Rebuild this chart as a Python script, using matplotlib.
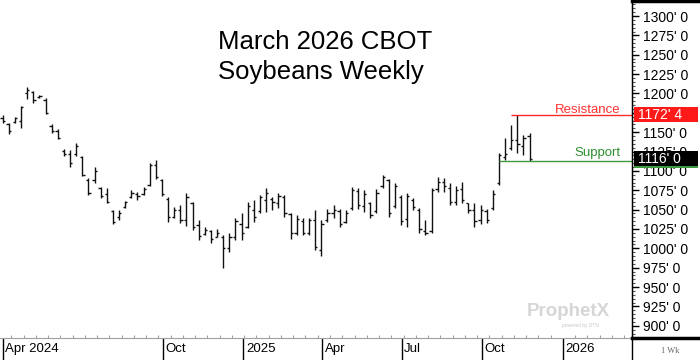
import matplotlib
matplotlib.use("Agg")
import matplotlib.pyplot as plt
import matplotlib.dates as mdates
from matplotlib.ticker import MultipleLocator
from matplotlib.transforms import blended_transform_factory, ScaledTranslation
from matplotlib.patches import Rectangle
from matplotlib.lines import Line2D
from datetime import date, timedelta

plt.rcParams['font.family'] = ['Liberation Sans', 'DejaVu Sans']

# weekly bars, march 2026 soybeans (cents/bu)
first_week = date(2024, 4, 1)
highs = [1172, 1162, 1170, 1184, 1208, 1203, 1198, 1194, 1160, 1154,
         1128, 1127, 1136, 1119, 1091, 1105, 1079, 1078, 1050, 1050,
         1061, 1075, 1073, 1079, 1110, 1114, 1090, 1066, 1053, 1056,
         1071, 1060, 1037, 1028, 1024, 1025, 1017, 1020, 1039, 1046,
         1060, 1062, 1069, 1078, 1066, 1071, 1069, 1046, 1043, 1039,
         1039, 1050, 1037, 1051, 1056, 1051, 1050, 1079, 1078, 1075,
         1060, 1077, 1095, 1090, 1084, 1069, 1071, 1065, 1052, 1037,
         1078, 1092, 1091, 1084, 1080, 1086, 1059, 1059, 1056, 1051,
         1075, 1123, 1143, 1159, 1172.5, 1146, 1149]
lows = [1162, 1148, 1162, 1155, 1193, 1188, 1194, 1173, 1149, 1141,
        1119, 1105, 1119, 1093, 1069, 1084, 1065, 1058, 1031, 1037,
        1052, 1065, 1062, 1069, 1080, 1090, 1068, 1034, 1039, 1033,
        1029, 1024, 1011, 1017, 1007, 1015, 975, 995, 1011, 1011,
        1026, 1034, 1046, 1047, 1050, 1052, 1040, 1012, 1017, 1017,
        1017, 998, 990, 1034, 1039, 1028, 1033, 1050, 1051, 1047,
        1039, 1046, 1078, 1040, 1052, 1030, 1028, 1050, 1020, 1017,
        1020, 1073, 1073, 1056, 1056, 1059, 1046, 1028, 1031, 1033,
        1050, 1082, 1114, 1127, 1123, 1121, 1113]
opens = [1168, 1160, 1163, 1165, 1200, 1202, 1195, 1192, 1158, 1152,
         1126, 1122, 1122, 1118, 1088, 1088, 1078, 1070, 1048, 1040,
         1054, 1066, 1070, 1070, 1082, 1108, 1088, 1064, 1040, 1050,
         1036, 1058, 1030, 1018, 1022, 1014, 1015, 1000, 1015, 1032,
         1028, 1050, 1048, 1062, 1064, 1058, 1066, 1044, 1020, 1035,
         1020, 1036, 998, 1036, 1045, 1048, 1034, 1052, 1074, 1055,
         1058, 1048, 1080, 1088, 1055, 1066, 1038, 1062, 1050, 1022,
         1022, 1076, 1086, 1078, 1060, 1076, 1058, 1050, 1036, 1048,
         1052, 1085, 1118, 1130, 1140, 1132, 1145]
closes = [1164, 1152, 1168, 1182, 1204, 1192, 1197, 1175, 1152, 1143,
          1122, 1110, 1132, 1095, 1072, 1100, 1068, 1060, 1034, 1046,
          1060, 1072, 1068, 1077, 1108, 1092, 1070, 1040, 1050, 1036,
          1066, 1028, 1016, 1024, 1012, 1020, 1000, 1015, 1035, 1020,
          1055, 1040, 1066, 1072, 1060, 1068, 1045, 1020, 1038, 1020,
          1036, 1002, 1032, 1046, 1050, 1032, 1046, 1075, 1056, 1070,
          1043, 1072, 1092, 1045, 1080, 1035, 1068, 1054, 1025, 1020,
          1075, 1086, 1080, 1060, 1075, 1062, 1050, 1035, 1050, 1036,
          1070, 1120, 1122, 1140, 1135, 1142, 1116]

resistance = 1172.5
support = 1113
last_price = 1116

ytick_values = list(range(900, 1301, 25))
xtick_dates = [date(2024, 4, 1), date(2024, 10, 1), date(2025, 1, 1), date(2025, 4, 1),
               date(2025, 7, 1), date(2025, 10, 1), date(2026, 1, 1)]
xtick_labels = ['Apr 2024', 'Oct', '2025', 'Apr', 'Jul', 'Oct', '2026']


def price_label(v):
    # cents and eighths, the way ProphetX writes it
    return "%d' %d" % (int(v), int(round((v % 1) * 8)))


fig = plt.figure(figsize=(7, 3.6), dpi=100)
ax = fig.add_axes([0, 22 / 360, 632 / 700, 338 / 360])

weeks = [first_week + timedelta(weeks=i) for i in range(len(highs))]
x = mdates.date2num(weeks)
bar_col = '#111111'
ax.vlines(x, lows, highs, color=bar_col, lw=1.0)
ax.hlines(opens, x - 2.6, x, color=bar_col, lw=1.0)
ax.hlines(closes, x, x + 2.6, color=bar_col, lw=1.0)

x0 = mdates.date2num(date(2024, 3, 29))
x1 = mdates.date2num(date(2026, 3, 21))
ax.set_xlim(x0, x1)
ax.set_ylim(884.2, 1320.7)

# resistance / support
ax.hlines(resistance, x[83], x1, color='#ff2a2a', lw=1.0)
ax.hlines(support, x[81], x1, color='#3f9a3f', lw=1.0)
bl = blended_transform_factory(ax.transAxes, ax.transData)
ax.annotate('Resistance', xy=(0.982, resistance), xycoords=bl, xytext=(0, 2),
            textcoords='offset pixels', ha='right', va='baseline', fontsize=9.5, color='#ff3030')
ax.annotate('Support', xy=(0.982, support), xycoords=bl, xytext=(0, 5),
            textcoords='offset pixels', ha='right', va='baseline', fontsize=9.5, color='#2f8f2f')

# spines
for s in ['top', 'left']:
    ax.spines[s].set_visible(False)
ax.spines['right'].set_color('black')
ax.spines['bottom'].set_color('#a0a0a0')

# y axis on the right (the 1175 label sits fully under the resistance flag)
ax.yaxis.tick_right()
ax.set_yticks(ytick_values)
ax.set_yticklabels(['' if v == 1175 else price_label(v) for v in ytick_values])
ax.yaxis.set_minor_locator(MultipleLocator(5))
ax.tick_params(axis='y', which='major', length=5, width=1, pad=3, labelsize=10, colors='black')
ax.tick_params(axis='y', which='minor', length=2.5, width=0.8, color='#555555')

# x axis: separators with labels to their right
ax.set_xticks(mdates.date2num(xtick_dates))
ax.set_xticklabels(xtick_labels)
ax.xaxis.set_minor_locator(MultipleLocator(14))
ax.tick_params(axis='x', which='major', length=15.8, width=1, color='black', pad=-12.5, labelsize=9.5)
ax.tick_params(axis='x', which='minor', direction='in', length=2.5, width=0.8, color='#a0a0a0')
for lab in ax.get_xticklabels():
    lab.set_ha('left')
    lab.set_transform(lab.get_transform() + ScaledTranslation(0.025, 0, fig.dpi_scale_trans))

# right column framing
xr = 632 / 700
fig.add_artist(Line2D([xr, xr], [0, 1], color='black', lw=1.0))
fig.add_artist(Line2D([xr, 1], [1 - 1 / 360, 1 - 1 / 360], color='black', lw=2.5))
fig.add_artist(Line2D([xr, 1], [22 / 360, 22 / 360], color='black', lw=2.5))
fig.text(670 / 700, 1 - 351 / 360, '1 Wk', fontsize=6, color='#666666',
         family='Liberation Serif', ha='center', va='center')

# price flags in the right column
fb = blended_transform_factory(fig.transFigure, ax.transData)
flags = [(support, '#3f9a3f', ''), (last_price, 'black', price_label(last_price)),
         (resistance, '#ff1a1a', price_label(resistance))]
for level, col, txt in flags:
    h = 15 / 0.7744
    ax.add_patch(Rectangle((634 / 700, level - h / 2), 64 / 700, h, transform=fb,
                           facecolor=col, edgecolor='none', clip_on=False, zorder=5))
    if txt:
        ax.text(638 / 700, level, txt, transform=fb, color='white', fontsize=10,
                va='center', ha='left', zorder=6, clip_on=False)

# title
fig.text(218 / 700, 1 - 30 / 360, 'March 2026 CBOT\nSoybeans Weekly', fontsize=18.5,
         ha='left', va='top', linespacing=1.3)

# logo
fig.text(527 / 700, 1 - 312 / 360, 'ProphetX', fontsize=13.5, fontweight='bold',
         color='#d6d6d6', ha='left', va='center')
fig.text(562 / 700, 1 - 325 / 360, 'powered by DTN', fontsize=3.5, color='#c8c8c8',
         ha='left', va='center')

fig.savefig('out.png', dpi=100)
